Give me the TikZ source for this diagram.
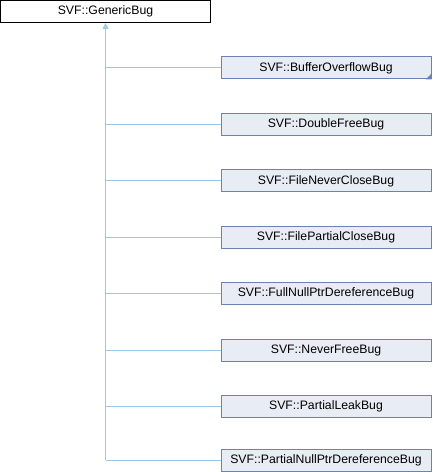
\documentclass[tikz,border=0pt]{standalone}
\usepackage{fontspec}
\setmainfont{Liberation Sans}
\usetikzlibrary{arrows.meta}
\definecolor{edgeblue}{HTML}{9CC8E6}
\definecolor{boxfill}{HTML}{E8ECF5}
\definecolor{boxdraw}{HTML}{6B82B4}
\begin{document}
\begin{tikzpicture}[x=1bp,y=-1bp,
  base/.style={draw=black,fill=white,minimum width=210bp,minimum height=22bp,inner sep=0pt,font=\fontsize{12.3}{14}\selectfont,line width=1bp},
  child/.style={draw=boxdraw,fill=boxfill,minimum width=210bp,minimum height=22bp,inner sep=0pt,font=\fontsize{12.3}{14}\selectfont,line width=1bp},
  edge/.style={draw=edgeblue,line width=1bp}]
\useasboundingbox (0,0) rectangle (432,472);
\node[base] (g) at (105.5,11.5) {SVF::GenericBug};
\node[child] (c1) at (326,68) {SVF::BufferOverflowBug};
\node[child] (c2) at (326,124.5) {SVF::DoubleFreeBug};
\node[child] (c3) at (326,181) {SVF::FileNeverCloseBug};
\node[child] (c4) at (326,237.5) {SVF::FilePartialCloseBug};
\node[child] (c5) at (326,293.5) {SVF::FullNullPtrDereferenceBug};
\node[child] (c6) at (326,350) {SVF::NeverFreeBug};
\node[child] (c7) at (326,406) {SVF::PartialLeakBug};
\node[child] (c8) at (326,460) {SVF::PartialNullPtrDereferenceBug};
\fill[boxdraw] (c1.south east) -- ++(0,-6) -- ++(-6,6) -- cycle;
\foreach \i in {1,...,8}{
  \coordinate (j\i) at (105.5,0 |- c\i.west);
  \draw[edge] (c\i.west) -- (j\i);
}
\draw[edge,-{Triangle[length=6bp,width=6bp,fill=edgeblue!80!white]}] (j8) -- (g.south);
\end{tikzpicture}
\end{document}
